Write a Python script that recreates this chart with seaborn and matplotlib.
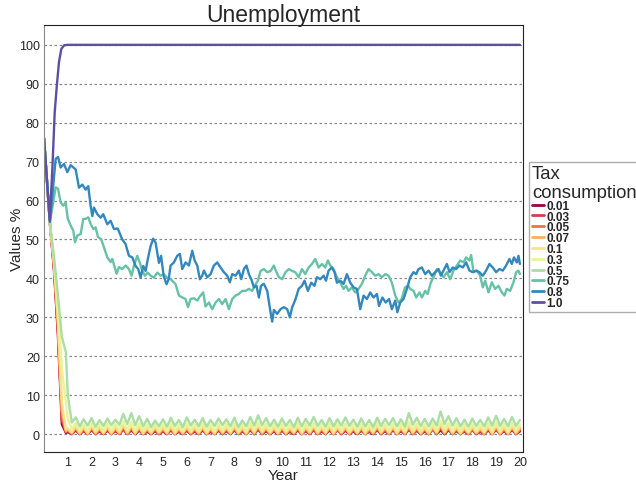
import numpy as np
import pandas as pd
import seaborn as sns
import matplotlib.pyplot as plt

taxes = ['0.01', '0.03', '0.05', '0.07', '0.1', '0.3', '0.5', '0.75', '0.8', '1.0']
colors = ['#9e0142', '#d53e4f', '#f46d43', '#fdae61', '#fee08b',
          '#e6f598', '#abdda4', '#66c2a5', '#3288bd', '#5e4fa2']

# low tax series: early drop, then one value every 2 months from year 1 to 20
early_years = [0, 0.25, 0.42, 0.58, 0.75, 0.92]
tail_years = list(np.round(1 + np.arange(115) / 6, 3))

s001 = [76, 54, 42, 26, 2.5, 0.3,
        0.5, 0.0, 1.0, 0.0, 0.8, 0.0, 1.1, 0.0, 0.7, 0.0, 0.9, 0.0,
        0.8, 0.0, 1.2, 0.0, 1.0, 0.0, 0.9, 0.0, 0.6, 0.0, 0.8, 0.0,
        0.7, 0.0, 1.0, 0.0, 0.6, 0.0, 0.9, 0.0, 0.7, 0.0, 1.0, 0.0,
        0.6, 0.0, 0.9, 0.0, 0.8, 0.0, 1.0, 0.0, 0.7, 0.0, 1.1, 0.0,
        1.2, 0.0, 0.8, 0.0, 0.7, 0.0, 0.9, 0.0, 0.6, 0.0, 1.0, 0.0,
        0.8, 0.0, 1.1, 0.0, 0.7, 0.0, 1.0, 0.0, 1.3, 0.0, 0.9, 0.0,
        0.7, 0.0, 0.9, 0.0, 0.6, 0.0, 1.1, 0.0, 0.8, 0.0, 1.0, 0.0,
        0.8, 0.0, 1.2, 0.0, 0.9, 0.0, 0.7, 0.0, 1.3, 0.0, 1.0, 0.0,
        1.1, 0.0, 0.8, 0.0, 0.7, 0.0, 1.2, 0.0, 0.6, 0.0, 1.0, 0.0,
        1.2, 0.0, 0.8, 0.0, 1.1, 0.0, 0.7]
s003 = [76, 54, 42.5, 27, 3.5, 0.5,
        0.8, 0.0, 1.2, 0.0, 1.0, 0.0, 1.3, 0.0, 0.9, 0.0, 1.1, 0.0,
        1.0, 0.0, 1.4, 0.1, 1.2, 0.0, 1.1, 0.0, 0.8, 0.0, 1.0, 0.0,
        0.9, 0.0, 1.2, 0.0, 0.8, 0.0, 1.1, 0.0, 0.9, 0.0, 1.2, 0.0,
        0.8, 0.0, 1.1, 0.0, 1.0, 0.0, 1.2, 0.0, 0.9, 0.0, 1.3, 0.0,
        1.4, 0.0, 1.0, 0.0, 0.9, 0.0, 1.1, 0.0, 0.8, 0.0, 1.2, 0.0,
        1.0, 0.0, 1.3, 0.0, 0.9, 0.0, 1.2, 0.0, 1.0, 0.0, 1.1, 0.0,
        0.9, 0.0, 1.1, 0.0, 0.8, 0.0, 1.3, 0.0, 1.0, 0.0, 1.2, 0.0,
        1.0, 0.0, 1.4, 0.0, 1.1, 0.0, 0.9, 0.0, 1.2, 0.0, 1.5, 0.0,
        1.3, 0.0, 1.0, 0.0, 0.9, 0.0, 1.1, 0.0, 0.8, 0.0, 1.2, 0.0,
        1.4, 0.0, 1.0, 0.0, 1.3, 0.0, 0.9]
s005 = [76, 54, 43, 28, 4.5, 0.6,
        1.0, 0.1, 1.5, 0.0, 1.3, 0.1, 1.6, 0.0, 1.2, 0.1, 1.4, 0.0,
        1.3, 0.1, 1.8, 0.0, 1.6, 0.1, 1.4, 0.0, 1.1, 0.1, 1.3, 0.0,
        1.2, 0.1, 1.5, 0.0, 1.1, 0.1, 1.4, 0.0, 1.2, 0.1, 1.5, 0.0,
        1.1, 0.1, 1.4, 0.0, 1.3, 0.1, 1.5, 0.0, 1.2, 0.1, 1.6, 0.0,
        1.7, 0.1, 1.3, 0.0, 1.2, 0.1, 1.4, 0.0, 1.1, 0.1, 1.5, 0.0,
        1.3, 0.1, 1.6, 0.0, 1.2, 0.1, 1.5, 0.0, 1.3, 0.1, 1.4, 0.0,
        1.2, 0.1, 1.4, 0.0, 1.1, 0.1, 1.6, 0.0, 1.3, 0.1, 1.5, 0.0,
        1.3, 0.1, 1.7, 0.0, 1.4, 0.1, 1.2, 0.0, 1.5, 0.1, 1.9, 0.1,
        1.6, 0.0, 1.3, 0.1, 1.2, 0.0, 1.4, 0.1, 1.1, 0.0, 1.5, 0.1,
        1.7, 0.0, 1.3, 0.1, 1.6, 0.0, 1.2]
s007 = [76, 54, 43.5, 29, 6, 0.8,
        1.2, 0.2, 1.8, 0.1, 1.6, 0.0, 1.9, 0.2, 1.5, 0.1, 1.7, 0.0,
        1.6, 0.1, 2.1, 0.2, 1.9, 0.1, 1.7, 0.0, 1.4, 0.1, 1.6, 0.2,
        1.5, 0.1, 1.8, 0.0, 1.4, 0.1, 1.7, 0.2, 1.5, 0.1, 1.8, 0.0,
        1.4, 0.0, 1.7, 0.2, 1.6, 0.1, 1.8, 0.1, 1.5, 0.0, 1.9, 0.2,
        2.0, 0.2, 1.6, 0.1, 1.5, 0.0, 1.7, 0.1, 1.4, 0.2, 1.8, 0.0,
        1.6, 0.2, 1.9, 0.1, 1.5, 0.1, 1.8, 0.0, 1.6, 0.2, 1.7, 0.1,
        1.5, 0.1, 1.7, 0.0, 1.4, 0.2, 1.9, 0.2, 1.6, 0.1, 1.8, 0.0,
        1.6, 0.1, 2.0, 0.2, 1.7, 0.1, 1.5, 0.0, 1.8, 0.2, 2.2, 0.3,
        1.9, 0.1, 1.6, 0.0, 1.5, 0.1, 1.7, 0.2, 1.4, 0.1, 1.8, 0.0,
        2.0, 0.1, 1.6, 0.0, 1.9, 0.2, 1.5]
s010 = [76, 54, 44, 30, 8, 1.2,
        1.5, 0.5, 2.2, 0.4, 2.0, 0.3, 2.3, 0.5, 1.9, 0.3, 2.1, 0.4,
        2.0, 0.6, 2.6, 0.5, 2.4, 0.4, 2.1, 0.3, 1.8, 0.4, 2.0, 0.5,
        1.9, 0.4, 2.2, 0.3, 1.8, 0.4, 2.1, 0.5, 1.9, 0.4, 2.2, 0.3,
        1.8, 0.3, 2.1, 0.5, 2.0, 0.4, 2.2, 0.4, 1.9, 0.3, 2.3, 0.5,
        2.4, 0.5, 2.0, 0.4, 1.9, 0.3, 2.1, 0.4, 1.8, 0.5, 2.2, 0.3,
        2.0, 0.5, 2.3, 0.4, 1.9, 0.4, 2.2, 0.3, 2.0, 0.5, 2.1, 0.4,
        1.9, 0.4, 2.1, 0.3, 1.8, 0.5, 2.3, 0.5, 2.0, 0.4, 2.2, 0.3,
        2.0, 0.4, 2.5, 0.5, 2.1, 0.4, 1.9, 0.3, 2.2, 0.5, 2.7, 0.6,
        2.3, 0.4, 2.0, 0.3, 1.9, 0.4, 2.1, 0.5, 1.8, 0.4, 2.2, 0.3,
        2.4, 0.4, 2.0, 0.3, 2.3, 0.5, 1.9]
s030 = [76, 54, 45, 33, 17, 8,
        4.0, 1.3, 2.8, 1.0, 2.6, 0.9, 2.9, 1.1, 2.5, 0.8, 2.7, 1.0,
        2.6, 1.2, 3.3, 1.1, 3.1, 0.9, 2.8, 1.0, 2.4, 0.8, 2.6, 1.1,
        2.5, 0.9, 2.9, 1.0, 2.4, 0.8, 2.7, 1.1, 2.5, 0.9, 2.8, 1.0,
        2.4, 0.8, 2.7, 1.1, 2.6, 0.9, 2.8, 1.0, 2.5, 0.8, 2.9, 1.1,
        3.0, 1.2, 2.6, 0.9, 2.5, 1.0, 2.7, 0.9, 2.4, 1.0, 2.8, 0.8,
        2.6, 1.1, 2.9, 1.0, 2.5, 0.9, 2.8, 1.0, 2.6, 1.1, 2.7, 0.9,
        2.5, 0.8, 2.7, 1.0, 2.4, 0.9, 2.9, 1.1, 2.6, 1.0, 2.8, 0.8,
        2.6, 0.9, 3.2, 1.2, 2.7, 1.0, 2.5, 1.0, 2.8, 1.1, 3.4, 1.3,
        2.9, 1.0, 2.6, 0.9, 2.5, 0.8, 2.7, 1.1, 2.4, 0.9, 2.8, 1.0,
        3.0, 1.0, 2.6, 0.9, 2.9, 1.1, 2.5]
s050 = [76, 54, 45.5, 36, 25, 21,
        10.0, 3.0, 4.3, 2.0, 3.8, 2.2, 4.1, 1.9, 3.6, 2.1, 4.0, 2.3,
        3.7, 2.4, 5.2, 2.6, 5.4, 2.3, 4.6, 2.0, 3.9, 1.8, 3.5, 2.0,
        3.8, 1.9, 4.2, 2.1, 3.6, 1.8, 4.3, 2.2, 3.7, 2.0, 4.1, 1.9,
        3.6, 2.1, 4.0, 2.3, 3.8, 2.0, 4.2, 1.8, 3.5, 2.0, 4.4, 2.2,
        4.8, 2.3, 4.1, 2.0, 3.7, 1.9, 4.0, 2.1, 3.6, 1.8, 4.2, 2.0,
        3.9, 2.2, 4.4, 2.1, 3.6, 1.9, 4.1, 2.0, 3.8, 2.2, 4.3, 2.1,
        3.7, 1.9, 4.0, 2.0, 3.6, 1.8, 4.2, 2.1, 3.9, 2.3, 4.1, 2.0,
        3.8, 1.9, 5.4, 2.4, 4.2, 2.1, 3.9, 2.0, 4.0, 2.2, 5.8, 2.6,
        4.6, 2.2, 4.1, 2.0, 3.7, 1.9, 4.0, 2.1, 3.6, 2.0, 4.3, 2.2,
        4.7, 2.1, 3.9, 2.0, 4.4, 2.1, 3.6]

years_075 = [0, 0.25, 0.49, 0.59, 0.7, 0.81, 0.91, 1.0, 1.12, 1.23, 1.3, 1.4, 1.54, 1.65, 1.75, 1.86, 1.96,
             2.07, 2.17, 2.27, 2.4, 2.52, 2.66, 2.8, 2.87, 2.97, 3.05, 3.15, 3.29, 3.43, 3.57, 3.68, 3.78,
             3.92, 4.03, 4.13, 4.24, 4.36, 4.48, 4.62, 4.76, 4.9, 5.03, 5.17,
             5.32, 5.53, 5.67, 5.81, 5.95, 6.05, 6.16, 6.3, 6.44, 6.58, 6.69, 6.79, 6.93, 7.07, 7.21, 7.35,
             7.49, 7.63, 7.77, 7.91, 8.05, 8.19, 8.33, 8.47, 8.61, 8.75, 8.89, 8.99, 9.1, 9.24, 9.38, 9.52,
             9.66, 9.77, 9.87, 10.01, 10.15, 10.29, 10.43,
             10.56, 10.7, 10.84, 10.98, 11.12, 11.26, 11.4, 11.54, 11.68, 11.82, 11.93, 12.03, 12.17, 12.31,
             12.45, 12.59, 12.69, 12.8, 12.94, 13.08, 13.22, 13.36, 13.5, 13.64, 13.78, 13.92, 14.06, 14.2,
             14.34, 14.48, 14.62, 14.76, 14.9, 15.03, 15.17, 15.31,
             15.39, 15.53, 15.64, 15.78, 15.88, 16.02, 16.12, 16.26, 16.4, 16.51, 16.65, 16.79, 16.93, 17.07,
             17.21, 17.35, 17.49, 17.63, 17.74, 17.88, 17.95, 18.05, 18.19, 18.33, 18.44, 18.54, 18.68, 18.82,
             18.96, 19.1, 19.24, 19.35, 19.45, 19.59, 19.73, 19.84, 19.94, 20.0]
s075 = [76, 54.5, 63.4, 63.0, 59.5, 58.7, 59.5, 55.3, 53.6, 52.3, 49.3, 51.0, 51.4, 55.3, 55.3, 55.7, 54.0,
        52.7, 53.1, 50.6, 50.1, 48.0, 45.4, 44.2, 45.0, 42.9, 41.2, 42.9, 42.4, 43.3, 42.4, 40.7, 43.3,
        45.8, 44.0, 41.9, 40.7, 41.5, 40.7, 40.2, 41.5, 40.7, 41.1, 40.2,
        39.8, 38.5, 35.6, 35.1, 34.7, 32.6, 34.7, 34.9, 34.3, 35.6, 36.4, 32.8, 33.8, 32.1, 33.8, 34.7,
        33.4, 34.7, 32.1, 34.7, 35.6, 36.0, 36.8, 36.8, 37.3, 36.8, 38.5, 39.4, 41.9, 42.4, 41.6, 41.9,
        43.3, 41.6, 40.3, 39.8, 41.6, 42.4, 41.9,
        41.6, 40.3, 42.4, 41.1, 42.8, 43.7, 45.0, 42.8, 43.7, 42.8, 44.6, 43.3, 42.4, 40.3,
        38.9, 37.3, 38.1, 36.8, 37.7, 36.4, 37.3, 38.6, 40.7, 42.4, 41.6, 40.7, 41.1, 40.3,
        41.1, 40.7, 38.9, 35.6, 33.8, 34.7, 37.7, 38.1,
        37.3, 36.8, 35.1, 36.4, 35.1, 36.8, 36.0, 39.0, 40.7, 42.4, 41.6, 40.3, 41.6, 39.8,
        42.0, 43.3, 44.6, 44.1, 45.4, 44.6, 46.0, 41.6, 42.0, 40.7, 37.7, 39.4, 36.4, 39.0,
        37.3, 38.1, 36.4, 35.6, 37.3, 36.8, 39.0, 41.6, 42.0, 41.1]

years_080 = [0, 0.25, 0.49, 0.59, 0.7, 0.84, 0.98, 1.12, 1.33, 1.47, 1.61, 1.75, 1.86, 1.96, 2.03, 2.1,
             2.24, 2.38, 2.49, 2.66, 2.8, 2.94, 3.1, 3.29, 3.43, 3.57, 3.71, 3.85, 3.96, 4.06, 4.17, 4.27,
             4.36, 4.48, 4.59, 4.69, 4.83, 4.92, 5.03, 5.15, 5.24,
             5.32, 5.46, 5.6, 5.71, 5.81, 5.95, 6.09, 6.23, 6.33, 6.44, 6.55, 6.65, 6.72, 6.86, 7.0, 7.14,
             7.28, 7.42, 7.56, 7.7, 7.81, 7.91, 8.05, 8.19, 8.29, 8.4, 8.51, 8.61, 8.71, 8.82, 8.93, 9.03,
             9.12, 9.24, 9.38, 9.52, 9.59, 9.66, 9.8, 9.94, 10.08, 10.22, 10.33, 10.43,
             10.56, 10.7, 10.84, 10.95, 11.09, 11.23, 11.37, 11.47, 11.61, 11.75, 11.85, 11.96, 12.1, 12.21,
             12.31, 12.45, 12.59, 12.73, 12.87, 13.01, 13.15, 13.29, 13.43, 13.57, 13.71, 13.85, 13.99, 14.08,
             14.22, 14.36, 14.5, 14.62, 14.76, 14.85, 14.97, 15.11, 15.25,
             15.39, 15.53, 15.64, 15.74, 15.88, 16.02, 16.16, 16.3, 16.44, 16.58, 16.68, 16.79, 16.93, 17.04,
             17.18, 17.32, 17.46, 17.6, 17.74, 17.88, 18.02, 18.16, 18.3, 18.44, 18.58, 18.72, 18.86, 19.0,
             19.14, 19.28, 19.42, 19.56, 19.66, 19.75, 19.87, 19.94, 20.0]
s080 = [76, 54.5, 70.7, 71.2, 68.5, 69.4, 67.3, 69.1, 68.0, 63.3, 64.1, 62.8, 63.7, 58.6, 56.0, 58.2,
        56.5, 55.6, 56.5, 53.9, 54.8, 52.7, 52.8, 50.0, 48.8, 45.8, 45.4, 43.2, 42.4, 40.2, 43.2, 41.9,
        44.9, 48.3, 50.2, 49.2, 44.0, 45.8, 40.6, 38.5, 39.8,
        43.3, 44.1, 45.8, 46.3, 42.4, 44.1, 43.3, 47.1, 44.6, 43.3, 39.8, 40.7, 42.0, 40.3, 41.1, 43.3,
        44.1, 42.8, 41.6, 40.7, 39.0, 41.1, 40.7, 42.0, 39.8, 42.4, 43.3, 41.1, 39.8, 37.7, 38.1, 35.1,
        38.1, 38.6, 36.8, 31.3, 28.9, 31.9, 30.9, 32.1, 32.6, 32.1, 30.0, 32.6,
        34.5, 37.3, 38.1, 39.4, 36.8, 38.9, 38.1, 40.3, 39.8, 40.7, 39.4, 42.0, 42.8, 41.6,
        38.9, 39.4, 38.6, 41.1, 38.9, 37.7, 37.3, 32.1, 35.6, 34.7, 36.4, 35.1, 36.0, 32.9,
        35.1, 33.8, 34.7, 32.1, 34.3, 31.3, 33.8, 34.7, 37.3,
        40.3, 41.6, 41.1, 42.4, 42.8, 41.1, 42.0, 40.7, 41.6, 42.4, 40.7, 42.0, 43.7, 41.6,
        42.8, 42.4, 43.3, 42.8, 44.1, 42.0, 41.6, 42.0, 41.6, 40.7, 42.0, 43.7, 42.8, 41.6,
        42.4, 42.0, 43.3, 45.0, 43.7, 45.4, 44.1, 45.8, 43.7]

years_100 = [0, 0.24, 0.35, 0.45, 0.54, 0.63, 0.73, 0.85, 1.0, 20.0]
s100 = [76, 54.9, 68, 82.7, 89.6, 95.6, 99, 99.9, 100, 100]

low = {'0.01': s001, '0.03': s003, '0.05': s005, '0.07': s007, '0.1': s010, '0.3': s030, '0.5': s050}
rows = []
for t, vals in low.items():
    for x, v in zip(early_years + tail_years, vals):
        rows.append((x, v, t))
for t, xs, vals in [('0.75', years_075, s075), ('0.8', years_080, s080), ('1.0', years_100, s100)]:
    for x, v in zip(xs, vals):
        rows.append((x, v, t))
df = pd.DataFrame(rows, columns=['year', 'value', 'tax'])

sns.set_style('white')
plt.rcParams['font.family'] = ['Liberation Sans', 'DejaVu Sans']

fig = plt.figure(figsize=(6.36, 4.85), dpi=100)
ax = fig.add_axes([44 / 636, 1 - 453 / 485, 479 / 636, 427 / 485])

sns.lineplot(data=df, x='year', y='value', hue='tax', hue_order=taxes, palette=colors,
             estimator=None, sort=False, linewidth=1.7, ax=ax)

ax.set_xlim(0, 20.13)
ax.set_ylim(-4.6, 105.1)
ax.set_xticks(range(1, 21))
ax.set_yticks(range(0, 101, 10))
ax.tick_params(length=0, labelsize=9, pad=3)
ax.yaxis.grid(True, linestyle=(0, (2, 2)), color='#888888', linewidth=0.9)
for side in ['top', 'right', 'bottom']:
    ax.spines[side].set_color('#222222')
ax.spines['left'].set_color('#888888')

ax.set_title('Unemployment', fontsize=16.5, pad=3)
ax.set_xlabel('Year', fontsize=11, labelpad=0)
ax.set_ylabel('Values %', fontsize=11, labelpad=-4)

handles, labels = ax.get_legend_handles_labels()
for h in handles:
    h.set_linewidth(2)
leg = ax.legend(handles, labels, title='Tax\nconsumption', loc='upper left',
                bbox_to_anchor=(529 / 636, 1 - 163 / 485), bbox_transform=fig.transFigure,
                frameon=True, fancybox=False, edgecolor='#999999', borderaxespad=0,
                prop={'weight': 'bold', 'size': 8.5}, title_fontsize=13.3,
                labelspacing=-0.1, handlelength=1.0, handletextpad=0.2, borderpad=0.25)
leg._legend_box.align = 'left'
leg.get_title().set_linespacing(1.15)

fig.savefig('out.png', dpi=100)
